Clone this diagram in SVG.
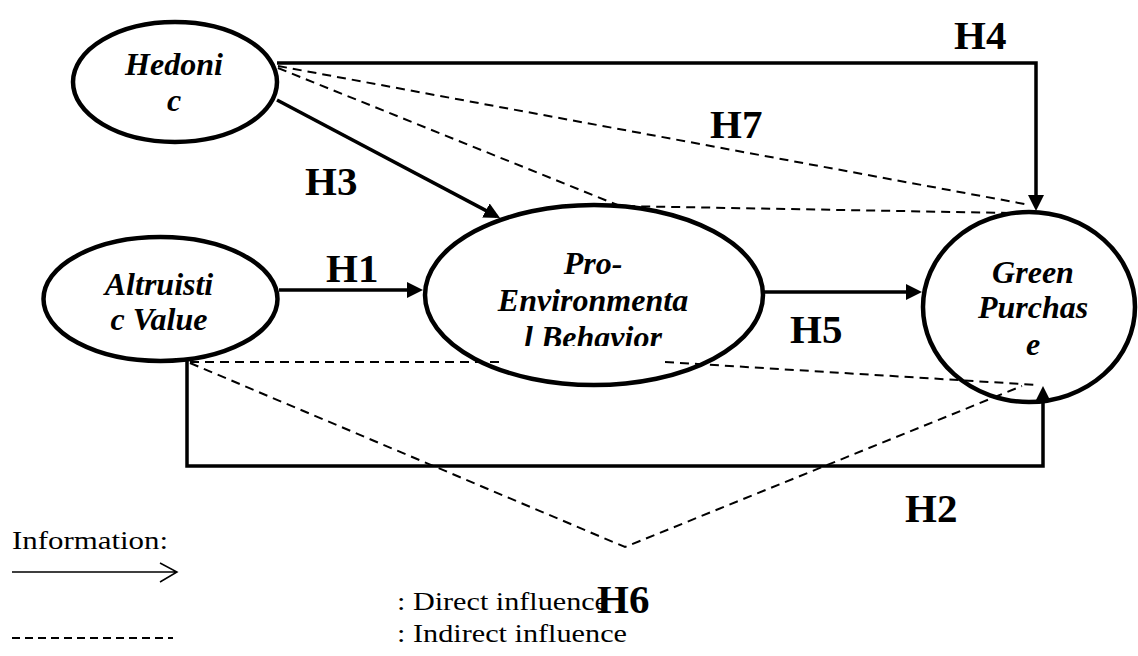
<svg xmlns="http://www.w3.org/2000/svg" width="1138" height="656" viewBox="0 0 1138 656">
<style>
.node{fill:#fff;stroke:#000;stroke-width:4.5}
.nt{font-family:"Liberation Serif","Times New Roman",serif;font-weight:bold;font-style:italic;font-size:32px;text-anchor:middle;fill:#000}
.lab{font-family:"Liberation Serif","Times New Roman",serif;font-weight:bold;font-size:41px;fill:#000}
.leg{font-family:"Liberation Serif","Times New Roman",serif;font-size:26px;fill:#000}
.solid{fill:none;stroke:#000;stroke-width:3.5}
.dash{fill:none;stroke:#000;stroke-width:2;stroke-dasharray:9 6}
</style>
<defs>
<marker id="ah" markerUnits="userSpaceOnUse" markerWidth="16" markerHeight="16" viewBox="0 0 16 16" refX="12" refY="8" orient="auto">
<path d="M0,0 L16,8 L0,16 z" fill="#000"/>
</marker>
<clipPath id="peclip"><rect x="420" y="200" width="350" height="146"/></clipPath>
</defs>
<rect width="1138" height="656" fill="#fff"/>
<g id="nodes">
<g id="hedonic">
<ellipse class="node" cx="175" cy="82" rx="102" ry="60"/>
<text class="nt" x="174" y="75">Hedoni</text>
<text class="nt" x="174" y="111">c</text>
</g>
<g id="altruistic">
<ellipse class="node" cx="160.5" cy="299" rx="117" ry="62"/>
<text class="nt" x="159" y="295">Altruisti</text>
<text class="nt" x="159" y="330">c Value</text>
</g>
<g id="proenv">
<ellipse class="node" cx="594" cy="295" rx="169" ry="90"/>
<g clip-path="url(#peclip)">
<text class="nt" x="593" y="274">Pro-</text>
<text class="nt" x="593" y="311">Environmenta</text>
<text class="nt" x="593" y="348">l Behavior</text>
</g>
</g>
<g id="green">
<ellipse class="node" cx="1029" cy="307" rx="106" ry="95"/>
<text class="nt" x="1033" y="283">Green</text>
<text class="nt" x="1033" y="318">Purchas</text>
<text class="nt" x="1033" y="355">e</text>
</g>
</g>
<g id="connectors">
<path class="solid" d="M277,63 L1036,63 L1036,207" marker-end="url(#ah)"/>
<path class="solid" d="M277,100 L496.5,216.1" marker-end="url(#ah)"/>
<path class="solid" d="M279,290 L419,290" marker-end="url(#ah)"/>
<path class="solid" d="M764,292 L918,292" marker-end="url(#ah)"/>
<path class="solid" d="M187,360 L187,466 L1043,466 L1043,390" marker-end="url(#ah)"/>
<path class="dash" d="M278,66 L1030,205"/>
<path class="dash" d="M278,68 L620,206 L1010,213"/>
<path class="dash" d="M190,362 L500,362 M665,362 L1038,385"/>
<path class="dash" d="M190,363 L625,547 L1022,386"/>
</g>
<g id="labels">
<text class="lab" x="954" y="49">H4</text>
<text class="lab" x="710" y="138">H7</text>
<text class="lab" x="305" y="195">H3</text>
<text class="lab" x="326" y="282">H1</text>
<text class="lab" x="790" y="343">H5</text>
<text class="lab" x="905" y="522">H2</text>
</g>
<g id="legend">
<text class="leg" x="12" y="549" textLength="156" lengthAdjust="spacingAndGlyphs">Information:</text>
<path d="M12,572 L177,572 M160,563 L177,572 L160,582" fill="none" stroke="#000" stroke-width="1.5"/>
<path d="M12,638 L173,638" fill="none" stroke="#000" stroke-width="2" stroke-dasharray="8 5"/>
<text class="leg" x="397" y="610" textLength="211" lengthAdjust="spacingAndGlyphs">: Direct influence</text>
<text class="leg" x="397" y="642" textLength="230" lengthAdjust="spacingAndGlyphs">: Indirect influence</text>
<text class="lab" x="597" y="613">H6</text>
</g>
</svg>
